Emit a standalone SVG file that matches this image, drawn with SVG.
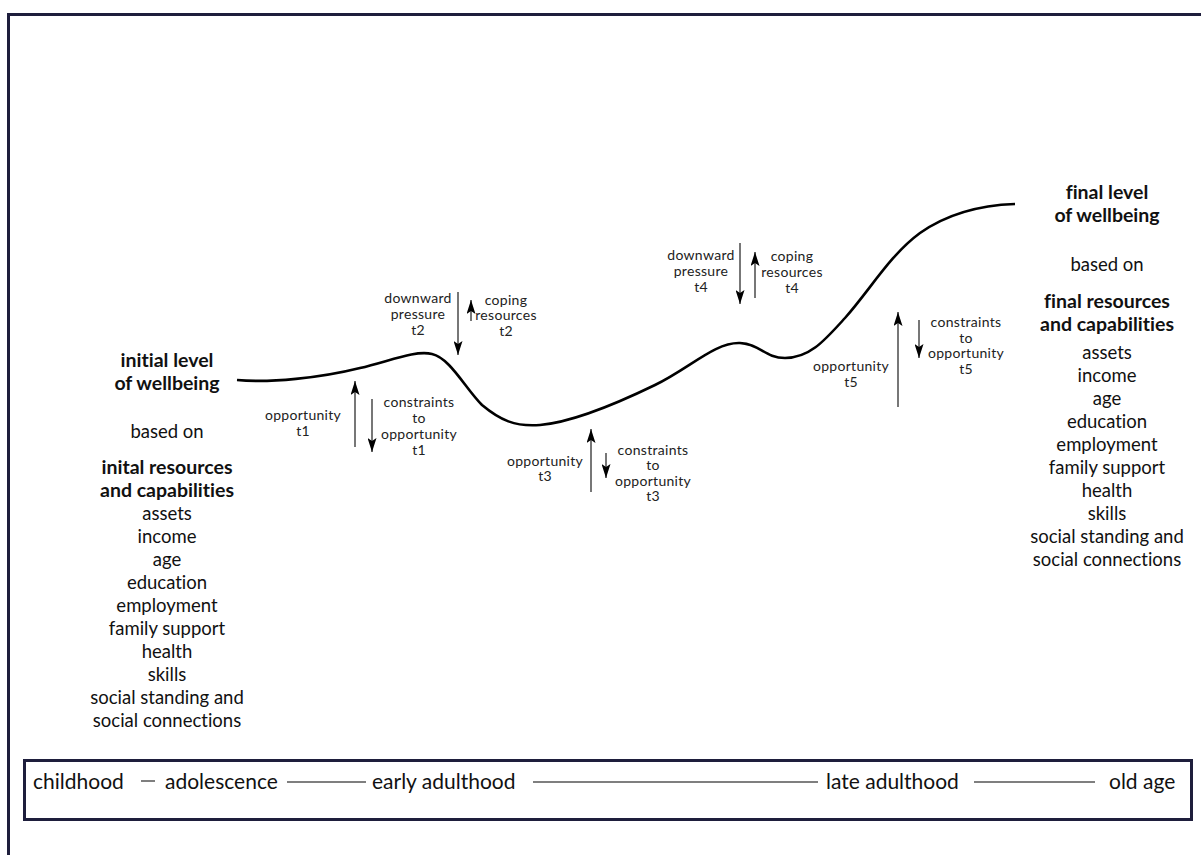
<svg xmlns="http://www.w3.org/2000/svg" width="1201" height="855" viewBox="0 0 1201 855">
<defs>
<style>
text{font-variant-ligatures:none}
.t{font-family:Lato,"Liberation Sans",sans-serif;font-size:18.5px;fill:#111;text-anchor:middle}
.b{font-weight:bold;font-size:19.5px}
.s{font-family:Lato,"Liberation Sans",sans-serif;font-size:14px;fill:#222;text-anchor:middle;letter-spacing:0.3px}
.tl{font-family:Lato,"Liberation Sans",sans-serif;font-size:21px;fill:#111}
.arr{stroke:#555;stroke-width:1.6;fill:none;marker-end:url(#ah)}
.seg{stroke:#555;stroke-width:1.5}
</style>
<marker id="ah" viewBox="0 0 14 9" refX="14" refY="4.5" markerWidth="14" markerHeight="9" markerUnits="userSpaceOnUse" orient="auto">
<path d="M0,0 L14,4.5 L0,9 L3,4.5 z" fill="#000"/>
</marker>
</defs>
<rect width="1201" height="855" fill="#fff"/>
<g id="frame">
<path d="M8.5,855 L8.5,14.5 L1201,14.5" fill="none" stroke="#1e1e3c" stroke-width="3"/>
</g>
<g id="curve">
<path d="M237,380 C270,383 320,378 360,368 C390,361 415,350 432,354 C450,358 465,388 482,405 C500,420 515,427 540,425 C575,422 620,402 655,385 C690,368 715,342 740,343 C760,344 765,358 785,358 C810,358 825,340 845,318 C870,290 890,255 920,233 C950,212 985,205 1015,204" fill="none" stroke="#000" stroke-width="2.6"/>
</g>
<g id="connectors">
<line class="arr" x1="355" y1="447" x2="355" y2="381"/>
<line class="arr" x1="372" y1="399" x2="372" y2="452"/>
<line class="arr" x1="458" y1="292" x2="458" y2="355"/>
<line class="arr" x1="471" y1="321" x2="471" y2="300"/>
<line class="arr" x1="591" y1="492" x2="591" y2="429"/>
<line class="arr" x1="606" y1="453" x2="606" y2="478"/>
<line class="arr" x1="740" y1="243" x2="740" y2="304"/>
<line class="arr" x1="755" y1="298" x2="755" y2="252"/>
<line class="arr" x1="898" y1="407" x2="898" y2="312"/>
<line class="arr" x1="919" y1="320" x2="919" y2="358"/>
</g>
<g id="initial">
<text class="t b" x="167" y="367">initial level</text>
<text class="t b" x="167" y="390">of wellbeing</text>
<text class="t" x="167" y="438">based on</text>
<text class="t b" x="167" y="474">inital resources</text>
<text class="t b" x="167" y="497">and capabilities</text>
<text class="t" x="167" y="520">assets</text>
<text class="t" x="167" y="543">income</text>
<text class="t" x="167" y="566">age</text>
<text class="t" x="167" y="589">education</text>
<text class="t" x="167" y="612">employment</text>
<text class="t" x="167" y="635">family support</text>
<text class="t" x="167" y="658">health</text>
<text class="t" x="167" y="681">skills</text>
<text class="t" x="167" y="704">social standing and</text>
<text class="t" x="167" y="727">social connections</text>
</g>
<g id="final">
<text class="t b" x="1107" y="199">final level</text>
<text class="t b" x="1107" y="222">of wellbeing</text>
<text class="t" x="1107" y="271">based on</text>
<text class="t b" x="1107" y="308">final resources</text>
<text class="t b" x="1107" y="331">and capabilities</text>
<text class="t" x="1107" y="359">assets</text>
<text class="t" x="1107" y="382">income</text>
<text class="t" x="1107" y="405">age</text>
<text class="t" x="1107" y="428">education</text>
<text class="t" x="1107" y="451">employment</text>
<text class="t" x="1107" y="474">family support</text>
<text class="t" x="1107" y="497">health</text>
<text class="t" x="1107" y="520">skills</text>
<text class="t" x="1107" y="543">social standing and</text>
<text class="t" x="1107" y="566">social connections</text>
</g>
<g id="t1">
<text class="s" x="303" y="420">opportunity</text>
<text class="s" x="303" y="436">t1</text>
<text class="s" x="419" y="407">constraints</text>
<text class="s" x="419" y="423">to</text>
<text class="s" x="419" y="439">opportunity</text>
<text class="s" x="419" y="455">t1</text>
</g>
<g id="t2">
<text class="s" x="418" y="303">downward</text>
<text class="s" x="418" y="319">pressure</text>
<text class="s" x="418" y="335">t2</text>
<text class="s" x="506" y="305">coping</text>
<text class="s" x="506" y="320">resources</text>
<text class="s" x="506" y="336">t2</text>
</g>
<g id="t3">
<text class="s" x="545" y="466">opportunity</text>
<text class="s" x="545" y="481">t3</text>
<text class="s" x="653" y="455">constraints</text>
<text class="s" x="653" y="470">to</text>
<text class="s" x="653" y="486">opportunity</text>
<text class="s" x="653" y="501">t3</text>
</g>
<g id="t4">
<text class="s" x="701" y="260">downward</text>
<text class="s" x="701" y="276">pressure</text>
<text class="s" x="701" y="292">t4</text>
<text class="s" x="792" y="261">coping</text>
<text class="s" x="792" y="277">resources</text>
<text class="s" x="792" y="293">t4</text>
</g>
<g id="t5">
<text class="s" x="851" y="371">opportunity</text>
<text class="s" x="851" y="387">t5</text>
<text class="s" x="966" y="327">constraints</text>
<text class="s" x="966" y="343">to</text>
<text class="s" x="966" y="358">opportunity</text>
<text class="s" x="966" y="374">t5</text>
</g>
<g id="timeline">
<rect x="24.5" y="760.5" width="1167" height="59" fill="none" stroke="#1e1e3c" stroke-width="3"/>
<text class="tl" x="33" y="789">childhood</text>
<line class="seg" x1="141" y1="781" x2="155" y2="781"/>
<text class="tl" x="165" y="789">adolescence</text>
<line class="seg" x1="287" y1="782" x2="366" y2="782"/>
<text class="tl" x="372" y="789">early adulthood</text>
<line class="seg" x1="533" y1="782" x2="818" y2="782"/>
<text class="tl" x="826" y="789">late adulthood</text>
<line class="seg" x1="974" y1="782" x2="1095" y2="782"/>
<text class="tl" x="1109" y="789">old age</text>
</g>
</svg>
